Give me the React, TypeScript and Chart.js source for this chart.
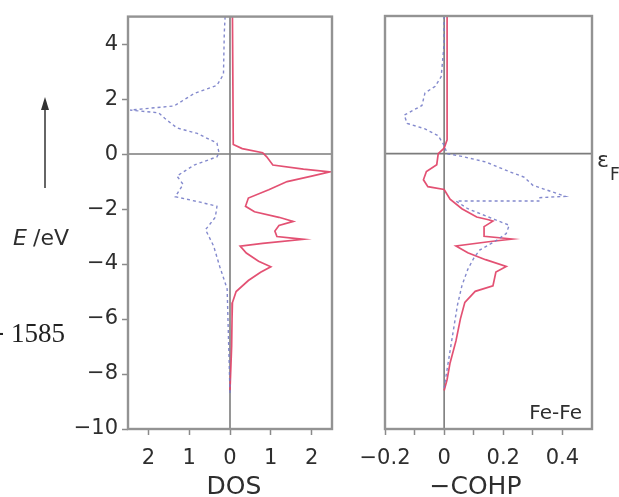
import React, { useEffect, useRef } from 'react';
import { Chart, registerables } from 'chart.js';

Chart.register(...registerables);

// ---- axes ----
const energyMin = -10;
const energyMax = 5;
const energyTicks = [-10, -8, -6, -4, -2, 0, 2, 4];
const dosMin = -2.5;
const dosMax = 2.5;
const dosTicks = [-2, -1, 0, 1, 2];
const cohpMin = -0.2;
const cohpMax = 0.5;
const cohpTicks = [-0.2, -0.1, 0, 0.1, 0.2, 0.3, 0.4];
const cohpLabelled = [-0.2, 0, 0.2, 0.4];

// ---- DOS, red solid (right side) ----
const dosRedE = [5.0, 0.35, 0.2, 0.05, -0.1, -0.4, -0.55, -0.65, -0.8, -1.0, -1.3, -1.6, -1.9, -2.1, -2.3, -2.45, -2.6, -2.8, -3.0, -3.1, -3.25, -3.35, -3.6, -3.9, -4.1, -4.3, -4.6, -5.0, -5.4, -6.0, -7.0, -8.6];
const dosRedV = [0.06, 0.08, 0.3, 0.8, 0.9, 1.05, 1.8, 2.45, 2.0, 1.4, 0.95, 0.45, 0.38, 0.6, 1.2, 1.55, 1.2, 1.1, 1.15, 1.8, 0.8, 0.25, 0.4, 0.7, 1.0, 0.75, 0.45, 0.15, 0.06, 0.05, 0.04, 0.0];

// ---- DOS, blue dashed (left side, plotted negative) ----
const dosBlueE = [5.0, 4.4, 2.9, 2.5, 2.2, 1.75, 1.6, 1.5, 1.3, 0.95, 0.75, 0.4, 0.05, -0.1, -0.4, -0.8, -1.1, -1.55, -1.75, -1.9, -2.3, -2.75, -3.35, -4.1, -4.9, -6.0, -8.7];
const dosBlueV = [-0.12, -0.14, -0.16, -0.32, -0.88, -1.37, -2.45, -1.75, -1.6, -1.3, -0.8, -0.32, -0.27, -0.32, -0.88, -1.3, -1.15, -1.34, -0.73, -0.32, -0.36, -0.6, -0.4, -0.25, -0.07, -0.05, 0.0];

// ---- -COHP, red solid ----
const cohpRedE = [5.0, 0.5, 0.2, 0.0, -0.4, -0.65, -0.95, -1.2, -1.3, -1.65, -2.0, -2.3, -2.4, -2.45, -2.65, -3.0, -3.1, -3.2, -3.35, -3.6, -3.85, -4.1, -4.3, -4.8, -5.0, -5.4, -6.0, -6.8, -7.6, -8.2, -8.6];
const cohpRedV = [0.01, 0.01, 0.0, -0.02, -0.025, -0.06, -0.07, -0.055, 0.0, 0.02, 0.06, 0.11, 0.15, 0.165, 0.135, 0.135, 0.23, 0.15, 0.04, 0.08, 0.14, 0.21, 0.175, 0.165, 0.105, 0.07, 0.055, 0.04, 0.02, 0.01, 0.0];

// ---- -COHP, blue dashed ----
const cohpBlueE = [5.0, 4.0, 2.8, 2.45, 2.2, 1.75, 1.4, 1.1, 0.9, 0.65, 0.3, 0.0, -0.1, -0.3, -0.65, -0.85, -1.15, -1.55, -1.6, -1.72, -1.72, -2.0, -2.3, -2.6, -2.9, -3.2, -3.5, -3.8, -4.2, -4.8, -5.5, -6.5, -7.5, -8.5];
const cohpBlueV = [0.0, 0.0, -0.01, -0.03, -0.065, -0.075, -0.135, -0.125, -0.065, -0.02, 0.0, 0.01, 0.06, 0.14, 0.22, 0.27, 0.3, 0.41, 0.32, 0.32, 0.04, 0.08, 0.15, 0.22, 0.21, 0.17, 0.12, 0.1, 0.08, 0.06, 0.045, 0.03, 0.015, 0.0];

const RED = 'rgba(226,72,108,0.95)';
const BLUE = 'rgba(118,124,200,0.9)';
const TEXT = '#2e2e2e';
const SANS = "'DejaVu Sans', 'Liberation Sans', sans-serif";
const TICK_FONT = { family: SANS, size: 21 };

const zip = (e: number[], v: number[]) => e.map((y, i) => ({ x: v[i], y }));
const minus = (v: number, digits = 0) => {
  const s = digits ? Math.abs(v).toFixed(digits) : String(Math.abs(v));
  return v < 0 ? '\u2212' + s : s;
};

const framePlugin = {
  id: 'frame',
  beforeDatasetsDraw(chart: any) {
    const { ctx, chartArea: a, scales } = chart;
    const x0 = scales.x.getPixelForValue(0);
    const y0 = scales.y.getPixelForValue(0);
    ctx.save();
    ctx.strokeStyle = '#7c7c7c';
    ctx.lineWidth = 1.6;
    ctx.beginPath();
    ctx.moveTo(x0, a.top);
    ctx.lineTo(x0, a.bottom);
    ctx.moveTo(a.left, y0);
    ctx.lineTo(a.right, y0);
    ctx.stroke();
    ctx.restore();
  },
  afterDatasetsDraw(chart: any) {
    const { ctx, chartArea: a } = chart;
    ctx.save();
    ctx.strokeStyle = '#939393';
    ctx.lineWidth = 2.4;
    ctx.strokeRect(a.left, a.top, a.right - a.left, a.bottom - a.top);
    ctx.restore();
  },
};

const leftTextPlugin = {
  id: 'leftText',
  afterDraw(chart: any) {
    const { ctx, chartArea: a } = chart;
    ctx.save();
    ctx.fillStyle = TEXT;
    ctx.textBaseline = 'alphabetic';
    ctx.textAlign = 'left';
    ctx.font = `italic 22px ${SANS}`;
    ctx.fillText('E', 13, 245);
    ctx.font = `22px ${SANS}`;
    ctx.fillText('/eV', 33, 245);
    // arrow
    ctx.strokeStyle = '#333';
    ctx.lineWidth = 1.5;
    ctx.beginPath();
    ctx.moveTo(45, 188);
    ctx.lineTo(45, 108);
    ctx.stroke();
    ctx.fillStyle = '#333';
    ctx.beginPath();
    ctx.moveTo(45, 97);
    ctx.lineTo(41, 110);
    ctx.lineTo(49, 110);
    ctx.closePath();
    ctx.fill();
    // page number fragment
    ctx.fillStyle = '#222';
    ctx.font = "27px 'Liberation Serif', 'DejaVu Serif', serif";
    ctx.fillText('1585', 11, 342);
    ctx.fillText('-', -5, 340);
    // axis title
    ctx.fillStyle = TEXT;
    ctx.font = `25px ${SANS}`;
    ctx.textAlign = 'center';
    ctx.fillText('DOS', (a.left + a.right) / 2 + 4, 494);
    ctx.restore();
  },
};

const rightTextPlugin = {
  id: 'rightText',
  afterDraw(chart: any) {
    const { ctx, chartArea: a } = chart;
    ctx.save();
    ctx.fillStyle = TEXT;
    ctx.textBaseline = 'alphabetic';
    ctx.font = `25px ${SANS}`;
    ctx.textAlign = 'center';
    ctx.fillText('\u2212COHP', (a.left + a.right) / 2 - 13, 494);
    ctx.font = `20px ${SANS}`;
    ctx.textAlign = 'right';
    ctx.fillText('Fe-Fe', a.right - 10, 419);
    ctx.textAlign = 'left';
    ctx.font = `22px ${SANS}`;
    ctx.fillText('\u03b5', a.right + 5, 167);
    ctx.font = `17px ${SANS}`;
    ctx.fillText('F', a.right + 18, 180);
    ctx.restore();
  },
};

function lineSet(e: number[], v: number[], color: string, dashed: boolean) {
  return {
    data: zip(e, v),
    showLine: true,
    borderColor: color,
    borderWidth: dashed ? 1.4 : 1.7,
    borderDash: dashed ? [3, 3] : [],
    pointRadius: 0,
    fill: false,
    tension: 0,
  };
}

function gridCfg() {
  return { drawOnChartArea: false, tickLength: 6, tickColor: '#8a8a8a', tickWidth: 1.5 };
}

export default function App() {
  const leftRef = useRef<HTMLCanvasElement>(null);
  const rightRef = useRef<HTMLCanvasElement>(null);

  useEffect(() => {
    const left = new Chart(leftRef.current as HTMLCanvasElement, {
      type: 'scatter',
      data: {
        datasets: [
          lineSet(dosBlueE, dosBlueV, BLUE, true),
          lineSet(dosRedE, dosRedV, RED, false),
        ] as any,
      },
      options: {
        animation: false,
        responsive: false,
        devicePixelRatio: 1,
        layout: { padding: { top: 16, left: 0, right: 8, bottom: 0 } },
        plugins: { legend: { display: false }, tooltip: { enabled: false } },
        scales: {
          x: {
            type: 'linear',
            min: dosMin,
            max: dosMax,
            afterBuildTicks: (s: any) => { s.ticks = dosTicks.map((value) => ({ value })); },
            afterFit: (s: any) => { s.height = 68; },
            border: { display: false },
            grid: gridCfg(),
            ticks: { font: TICK_FONT, color: TEXT, padding: 11, maxRotation: 0, autoSkip: false, callback: (v: any) => String(Math.abs(Number(v))) },
          },
          y: {
            type: 'linear',
            min: energyMin,
            max: energyMax,
            afterBuildTicks: (s: any) => { s.ticks = energyTicks.map((value) => ({ value })); },
            afterFit: (s: any) => { s.width = 128; },
            border: { display: false },
            grid: gridCfg(),
            ticks: { font: TICK_FONT, color: TEXT, padding: 4, autoSkip: false, callback: (v: any) => minus(Number(v)) },
          },
        },
      } as any,
      plugins: [framePlugin, leftTextPlugin],
    });

    const right = new Chart(rightRef.current as HTMLCanvasElement, {
      type: 'scatter',
      data: {
        datasets: [
          lineSet(cohpBlueE, cohpBlueV, BLUE, true),
          lineSet(cohpRedE, cohpRedV, RED, false),
        ] as any,
      },
      options: {
        animation: false,
        responsive: false,
        devicePixelRatio: 1,
        layout: { padding: { top: 16, left: 45, right: 27, bottom: 0 } },
        plugins: { legend: { display: false }, tooltip: { enabled: false } },
        scales: {
          x: {
            type: 'linear',
            min: cohpMin,
            max: cohpMax,
            afterBuildTicks: (s: any) => { s.ticks = cohpTicks.map((value) => ({ value })); },
            afterFit: (s: any) => { s.height = 68; },
            border: { display: false },
            grid: gridCfg(),
            ticks: {
              font: TICK_FONT, color: TEXT, padding: 11, maxRotation: 0, autoSkip: false,
              callback: (v: any) => {
                const n = Number(v);
                const hit = cohpLabelled.find((l) => Math.abs(l - n) < 1e-9);
                if (hit === undefined) return '';
                return hit === 0 ? '0' : minus(hit, 1);
              },
            },
          },
          y: {
            type: 'linear',
            display: false,
            min: energyMin,
            max: energyMax,
          },
        },
      } as any,
      plugins: [framePlugin, rightTextPlugin],
    });

    return () => {
      left.destroy();
      right.destroy();
    };
  }, []);

  return (
    <div style={{ position: 'fixed', left: 0, top: 0, width: 619, height: 497, background: '#fff', overflow: 'hidden' }}>
      <canvas ref={leftRef} width={340} height={497} style={{ position: 'absolute', left: 0, top: 0 }} />
      <canvas ref={rightRef} width={279} height={497} style={{ position: 'absolute', left: 340, top: 0 }} />
    </div>
  );
}
